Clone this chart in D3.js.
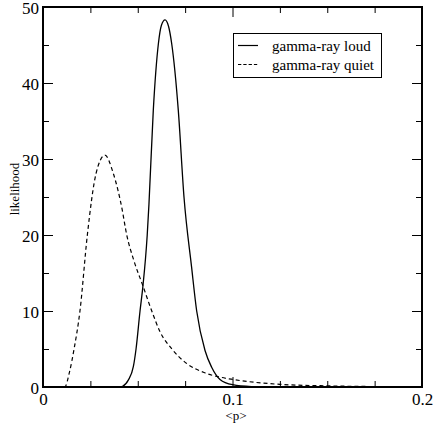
<!DOCTYPE html>
<html>
 <head>
  <meta charset="utf-8">
  <script src="https://cdn.jsdelivr.net/npm/d3@7"></script>
  <style type="text/css">
    body{
    margin: 0;
    background: #FFFFFF;
    }
  </style>
 </head>
<body>
  <div id="chart"></div>

  <script type="text/javascript">
    // <p> values and likelihood
    var pLoud = [0.000, 0.0400, 0.0420, 0.0450, 0.0477, 0.0491, 0.0512, 0.0527, 0.0550, 0.0559,
                 0.0582, 0.0609, 0.0625, 0.0644, 0.0662, 0.0679, 0.0714, 0.0744, 0.0784, 0.0811,
                 0.0855, 0.0890, 0.0934, 0.1000, 0.1100, 0.1200, 0.2000];
    var likeLoud = [0, 0, 0.1, 0.9, 2.7, 5.0, 10.0, 13.2, 20.0, 24.0,
                    36.4, 45.2, 47.6, 48.3, 47.5, 45.2, 36.4, 25.0, 15.8, 10.0,
                    4.8, 2.6, 1.0, 0.3, 0.05, 0, 0];

    var pQuiet = [0.000, 0.0115, 0.0140, 0.0164, 0.0195, 0.0234, 0.0280, 0.0327, 0.0371, 0.0415,
                  0.0442, 0.0480, 0.0526, 0.0574, 0.0617, 0.0680, 0.0758, 0.0850, 0.0934, 0.1000,
                  0.1125, 0.1250, 0.1500, 0.1750, 0.2000];
    var likeQuiet = [0, 0, 2.0, 5.0, 10.0, 20.0, 28.1, 30.5, 28.1, 23.7,
                     20.0, 16.6, 13.4, 10.0, 7.3, 5.0, 3.1, 1.9, 1.3, 1.0,
                     0.6, 0.35, 0.15, 0.06, 0.02];

    var xMajor = [0, 0.1, 0.2];
    var xMinor = [0.025, 0.05, 0.075, 0.125, 0.15, 0.175];
    var yMajor = [0, 10, 20, 30, 40, 50];
    var yMinor = [5, 15, 25, 35, 45];
    var seriesNames = ["gamma-ray loud", "gamma-ray quiet"];

    var W = 436, H = 426;
    var L = 43, R = 422, T = 7, B = 387;
    var serif = "'Liberation Serif'";

    var svg = d3.select("#chart").append("svg")
        .attr("width", W).attr("height", H);

    var x = d3.scaleLinear().domain([0, 0.2]).range([L, R]);
    var y = d3.scaleLinear().domain([0, 50]).range([B, T]);

    //ticks point inwards on all four sides
    function ticks(axis, vals, size, tr, labels){
      var g = svg.append("g").attr("transform", tr)
        .call(axis.tickValues(vals).tickSize(-size).tickPadding(labels ? 6 : 0)
              .tickFormat(labels ? d3.format("") : ""));
      g.select(".domain").remove();
      g.selectAll("line").attr("stroke", "#000").attr("stroke-width", 1);
      g.selectAll("text").style("font-family", serif).style("font-size", "17px").attr("fill", "#000");
      return g;
    }
    ticks(d3.axisBottom(x), xMajor, 10, "translate(0," + B + ")", true);
    ticks(d3.axisBottom(x), xMinor, 6, "translate(0," + B + ")", false);
    ticks(d3.axisTop(x), xMajor, 10, "translate(0," + T + ")", false);
    ticks(d3.axisTop(x), xMinor, 6, "translate(0," + T + ")", false);
    var gy = ticks(d3.axisLeft(y), yMajor, 10, "translate(" + L + ",0)", true);
    gy.selectAll("text").attr("x", -4).attr("dy", "0.36em");
    ticks(d3.axisLeft(y), yMinor, 6, "translate(" + L + ",0)", false);
    ticks(d3.axisRight(y), yMajor, 10, "translate(" + R + ",0)", false);
    ticks(d3.axisRight(y), yMinor, 6, "translate(" + R + ",0)", false);

    // frame
    svg.append("rect")
      .attr("x", L).attr("y", T).attr("width", R - L).attr("height", B - T)
      .attr("fill", "none").attr("stroke", "#000").attr("stroke-width", 2);

    var line = d3.line()
      .x(function (d) { return x(d[0]); })
      .y(function (d) { return y(d[1]); })
      .curve(d3.curveMonotoneX);

    svg.append("path")
      .datum(d3.zip(pQuiet, likeQuiet))
      .attr("d", line)
      .attr("fill", "none").attr("stroke", "#000").attr("stroke-width", 1.2)
      .attr("stroke-dasharray", "4,3");

    svg.append("path")
      .datum(d3.zip(pLoud, likeLoud))
      .attr("d", line)
      .attr("fill", "none").attr("stroke", "#000").attr("stroke-width", 1.3);

    // axis titles
    svg.append("text")
      .attr("x", 236).attr("y", 420)
      .attr("text-anchor", "middle")
      .style("font-family", serif)
      .style("font-size", "13px")
      .text("<p>");
    svg.append("text")
      .attr("transform", "translate(18.5,189) rotate(-90)")
      .attr("text-anchor", "middle")
      .style("font-family", serif)
      .style("font-size", "13px")
      .text("likelihood");

    // legend
    var leg = svg.append("g");
    leg.append("rect")
      .attr("x", 233.5).attr("y", 33.5).attr("width", 148).attr("height", 44)
      .attr("fill", "#fff").attr("stroke", "#000").attr("stroke-width", 1);
    leg.selectAll("line.key")
      .data(seriesNames)
      .enter()
      .append("line")
        .attr("x1", 238).attr("x2", 258)
        .attr("y1", function (d, i) { return 45.5 + i * 19; })
        .attr("y2", function (d, i) { return 45.5 + i * 19; })
        .attr("stroke", "#000").attr("stroke-width", 1.2)
        .attr("stroke-dasharray", function (d, i) { return i ? "3.3,2" : null; });
    leg.selectAll("text.key")
      .data(seriesNames)
      .enter()
      .append("text")
        .attr("x", 272)
        .attr("y", function (d, i) { return 50.5 + i * 19; })
        .style("font-family", serif)
        .style("font-size", "15px")
        .text(function (d) { return d; });
  </script>
</body>
</html>
